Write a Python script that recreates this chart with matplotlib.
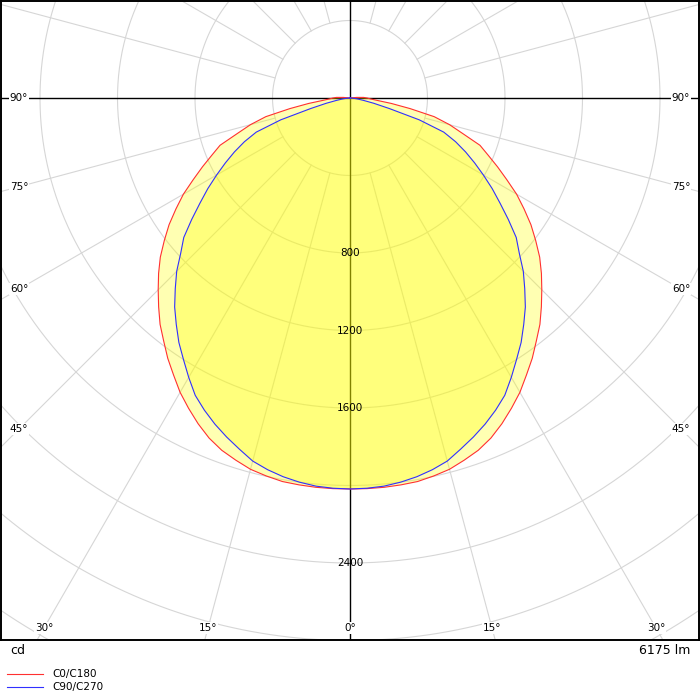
import numpy as np
import matplotlib.pyplot as plt
from matplotlib.lines import Line2D

# luminous intensity (cd) per gamma angle
gamma = [0, 2.5, 5, 7.5, 10, 12.5, 15, 17.5, 20, 22.5, 25, 27.5, 30, 32.5,
         35, 37.5, 40, 42.5, 45, 47.5, 50, 52.5, 55, 57.5, 60, 62.5, 65,
         67.5, 70, 72.5, 75, 77.5, 80, 82.5, 85, 87.5, 90, 92.5, 95]
c0_c180 = [2018, 2018, 2017, 2014, 2010, 1998, 1984, 1960, 1935, 1900,
           1855, 1805, 1754, 1695, 1640, 1580, 1525, 1462, 1400, 1340,
           1278, 1208, 1140, 1065, 993, 912, 840, 772, 714, 610,
           532, 445, 315, 215, 140, 105, 88, 70, 35]
c90_c270 = [2018, 2016, 2011, 2000, 1985, 1965, 1940, 1900, 1862, 1822,
            1778, 1730, 1665, 1600, 1540, 1473, 1408, 1335, 1265, 1185,
            1120, 1030, 945, 870, 795, 725, 658, 590, 515, 375,
            210, 125, 70, 40, 20, 10, 5, 0, 0]

plane_names = ['C0/C180', 'C90/C270']
plane_colors = ['#ff3030', '#3030ff']

rings = [400, 800, 1200, 1600, 2000, 2400, 2800, 3200, 3600]
ring_labels = [800, 1200, 1600, 2400]
angle_labels = [0, 15, 30, 45, 60, 75, 90]
flux = '6175 lm'
unit = 'cd'

# geometry: 400 cd -> 77.5 px, centre at pixel (350, 98)
W = 700
cdpp = 400 / 77.5
cx, cy = 350, 98
ax_left, ax_right, ax_top, ax_bottom = 1, 699, 1, 640

fig = plt.figure(figsize=(7, 7), dpi=100)
ax = fig.add_axes([ax_left / W, 1 - ax_bottom / W,
                   (ax_right - ax_left) / W, (ax_bottom - ax_top) / W])
xmin = (ax_left - cx) * cdpp
xmax = (ax_right - cx) * cdpp
ymax = (cy - ax_top) * cdpp
ymin = (cy - ax_bottom) * cdpp
ax.set_xlim(xmin, xmax)
ax.set_ylim(ymin, ymax)
ax.set_xticks([])
ax.set_yticks([])
for s in ax.spines.values():
    s.set_linewidth(1.4)
    s.set_color('black')
    s.set_zorder(10)

grid_c = '#d6d6d6'
t = np.linspace(0, 2 * np.pi, 721)
for r in rings:
    ax.plot(r * np.cos(t), r * np.sin(t), color=grid_c, lw=0.8, zorder=1)
for a in range(0, 360, 15):
    if a % 90 == 0:
        continue
    ar = np.radians(a)
    ax.plot([400 * np.sin(ar), 5000 * np.sin(ar)],
            [-400 * np.cos(ar), -5000 * np.cos(ar)],
            color=grid_c, lw=0.8, zorder=1)

ax.axhline(0, color='black', lw=1.0, zorder=1.5)
ax.axvline(0, color='black', lw=1.0, zorder=1.5)

g = np.radians(gamma)
for vals, name, col in zip([c0_c180, c90_c270], plane_names, plane_colors):
    v = np.array(vals, dtype=float)
    xr = v * np.sin(g)
    yr = -v * np.cos(g)
    # left half (C180 / C270) mirrored, then right half (C0 / C90)
    xs = np.concatenate([[0], -xr[::-1], xr[1:], [0]])
    ys = np.concatenate([[0], yr[::-1], yr[1:], [0]])
    ax.fill(xs, ys, color='#ffff00', alpha=0.3, lw=0, zorder=2)
    ax.plot(xs, ys, color=col, lw=0.8, zorder=3, label=name)

for r in ring_labels:
    ax.text(0, -r, str(r), ha='center', va='center', fontsize=7.5, zorder=4)

lab_box = dict(boxstyle='square,pad=0.1', fc='white', ec='none')
for a in angle_labels:
    ar = np.radians(a)
    sides = [1] if a == 0 else [-1, 1]
    for sd in sides:
        dx, dy = sd * np.sin(ar), -np.cos(ar)
        t_side = (xmax / abs(dx)) if dx != 0 else np.inf
        t_bot = (ymin / dy) if dy < 0 else np.inf
        if t_side < t_bot:
            lx = sd * (xmax - 18 * cdpp)
            ly = lx / dx * dy if dy != 0 else 0
        else:
            ly = ymin + 12 * cdpp
            lx = ly / dy * dx
        ax.text(lx, ly, f'{a}°', ha='center', va='center', fontsize=7.5,
                bbox=lab_box, zorder=5)

fig.text(10 / W, 1 - 650 / W, unit, ha='left', va='center', fontsize=9)
fig.text(690 / W, 1 - 650 / W, flux, ha='right', va='center', fontsize=9)

for i, (name, col) in enumerate(zip(plane_names, plane_colors)):
    yy = 1 - (674 + 13 * i) / W
    fig.add_artist(Line2D([7 / W, 43 / W], [yy, yy], color=col, lw=0.8,
                          transform=fig.transFigure))
    fig.text(52 / W, yy, name, ha='left', va='center', fontsize=7.5)

fig.savefig('out.png', dpi=100)
